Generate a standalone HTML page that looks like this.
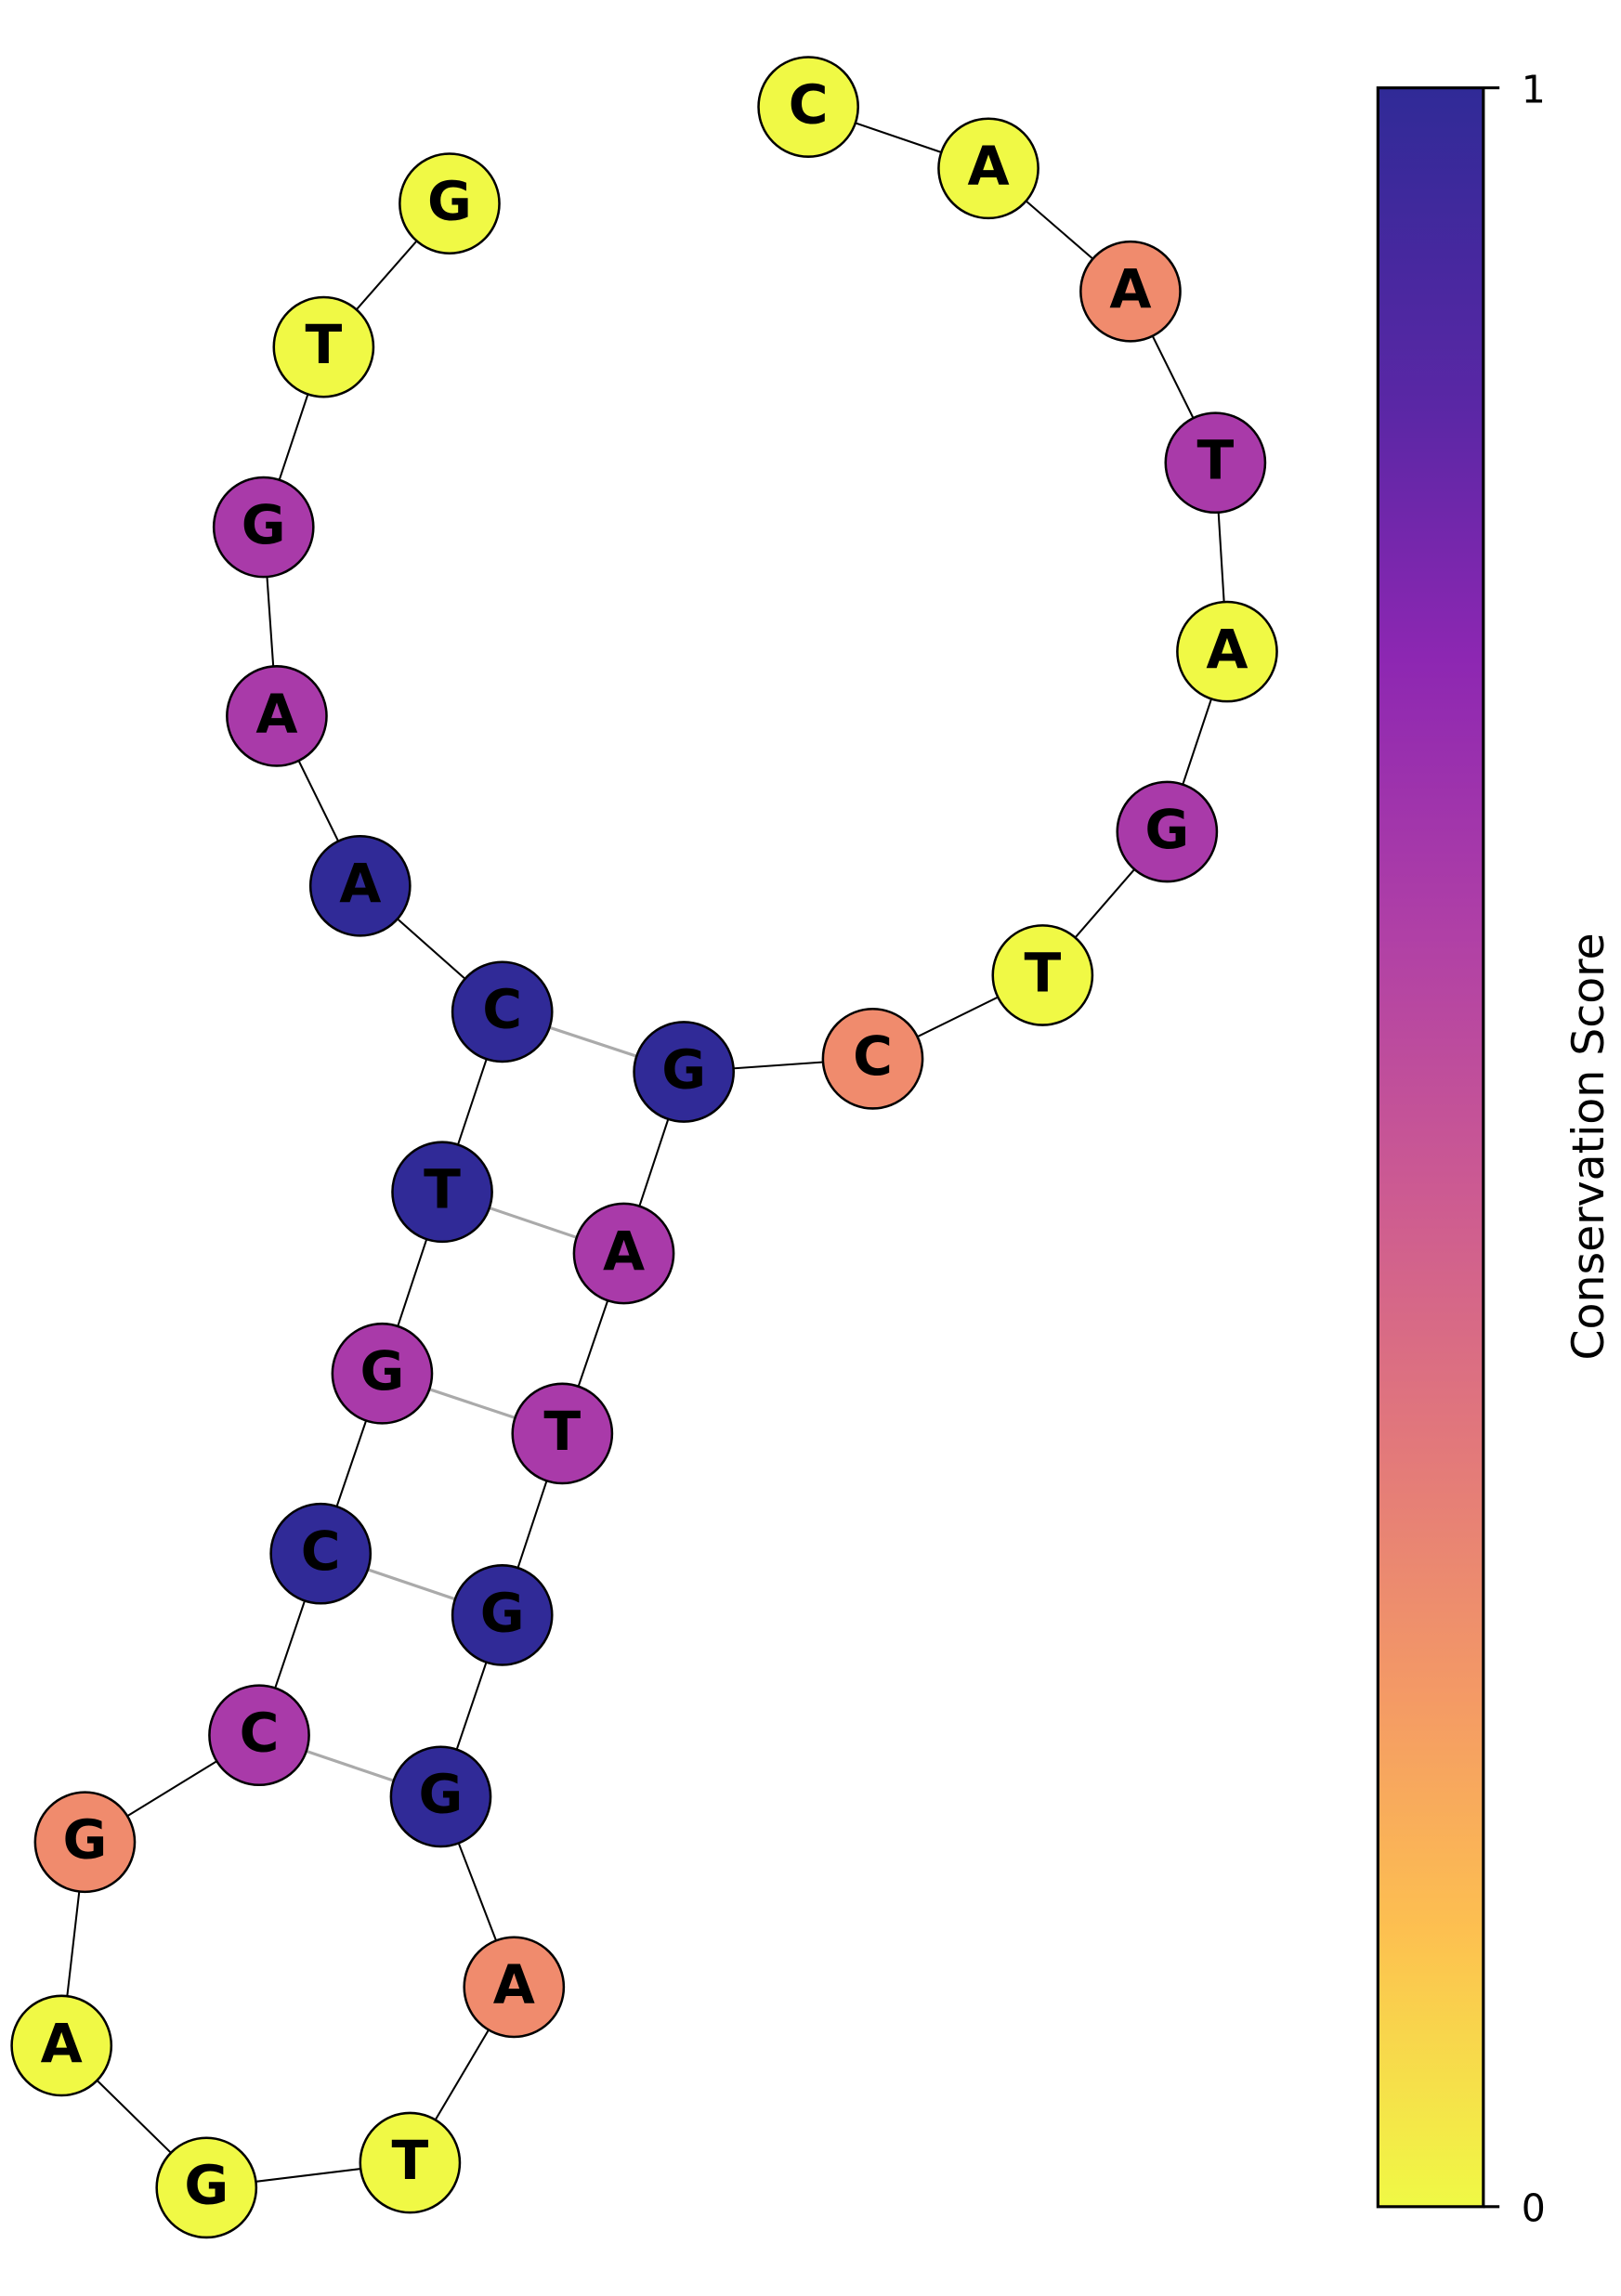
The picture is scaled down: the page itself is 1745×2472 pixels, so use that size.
<!DOCTYPE html>
<html><head><meta charset="utf-8"><style>html,body{margin:0;padding:0;background:#fff}svg{display:block}</style></head>
<body>
<svg width="1745" height="2472" viewBox="0 0 1107 1568" preserveAspectRatio="none" xmlns="http://www.w3.org/2000/svg">
<defs>
<linearGradient id="cb" x1="0" y1="0" x2="0" y2="1">
<stop offset="0" stop-color="#302a97"/>
<stop offset="0.15" stop-color="#5a27a5"/>
<stop offset="0.27" stop-color="#8d27b2"/>
<stop offset="0.4" stop-color="#b040a6"/>
<stop offset="0.52" stop-color="#cc5a92"/>
<stop offset="0.64" stop-color="#e2787b"/>
<stop offset="0.76" stop-color="#f49a65"/>
<stop offset="0.87" stop-color="#fdc050"/>
<stop offset="1" stop-color="#f0f945"/>
</linearGradient>
</defs>
<g stroke="#aaa" stroke-width="2">
<line x1="343" y1="691" x2="467" y2="732"/>
<line x1="302" y1="814" x2="426" y2="856"/>
<line x1="261" y1="938" x2="384" y2="979"/>
<line x1="219" y1="1061" x2="343" y2="1103"/>
<line x1="177" y1="1185" x2="301" y2="1227"/>
</g>
<polyline fill="none" stroke="#000" stroke-width="1.3" points="552,73 675,115 772,199 830,316 838,445 797,568 712,666 596,723 467,732 426,856 384,979 343,1103 301,1227 351,1357 280,1477 141,1494 42,1397 58,1258 177,1185 219,1061 261,938 302,814 343,691 246,605 189,489 180,360 221,237 307,139"/>
<g stroke="#000" stroke-width="1.6" font-family="'DejaVu Sans','Liberation Sans',sans-serif" font-weight="bold" font-size="37" text-anchor="middle">
<circle cx="552" cy="73" r="34" fill="#f0f945"/>
<circle cx="675" cy="115" r="34" fill="#f0f945"/>
<circle cx="772" cy="199" r="34" fill="#f08b6d"/>
<circle cx="830" cy="316" r="34" fill="#a93aa9"/>
<circle cx="838" cy="445" r="34" fill="#f0f945"/>
<circle cx="797" cy="568" r="34" fill="#a93aa9"/>
<circle cx="712" cy="666" r="34" fill="#f0f945"/>
<circle cx="596" cy="723" r="34" fill="#f08b6d"/>
<circle cx="467" cy="732" r="34" fill="#302a97"/>
<circle cx="343" cy="691" r="34" fill="#302a97"/>
<circle cx="246" cy="605" r="34" fill="#302a97"/>
<circle cx="189" cy="489" r="34" fill="#a93aa9"/>
<circle cx="180" cy="360" r="34" fill="#a93aa9"/>
<circle cx="221" cy="237" r="34" fill="#f0f945"/>
<circle cx="307" cy="139" r="34" fill="#f0f945"/>
<circle cx="302" cy="814" r="34" fill="#302a97"/>
<circle cx="426" cy="856" r="34" fill="#a93aa9"/>
<circle cx="261" cy="938" r="34" fill="#a93aa9"/>
<circle cx="384" cy="979" r="34" fill="#a93aa9"/>
<circle cx="219" cy="1061" r="34" fill="#302a97"/>
<circle cx="343" cy="1103" r="34" fill="#302a97"/>
<circle cx="177" cy="1185" r="34" fill="#a93aa9"/>
<circle cx="301" cy="1227" r="34" fill="#302a97"/>
<circle cx="58" cy="1258" r="34" fill="#f08b6d"/>
<circle cx="42" cy="1397" r="34" fill="#f0f945"/>
<circle cx="141" cy="1494" r="34" fill="#f0f945"/>
<circle cx="280" cy="1477" r="34" fill="#f0f945"/>
<circle cx="351" cy="1357" r="34" fill="#f08b6d"/>
<g stroke="none" fill="#000" transform="translate(0,-2)">
<text x="552" y="86">C</text><text x="675" y="128">A</text><text x="772" y="212">A</text><text x="830" y="329">T</text><text x="838" y="458">A</text><text x="797" y="581">G</text><text x="712" y="679">T</text><text x="596" y="736">C</text><text x="467" y="745">G</text><text x="343" y="704">C</text><text x="246" y="618">A</text><text x="189" y="502">A</text><text x="180" y="373">G</text><text x="221" y="250">T</text><text x="307" y="152">G</text>
<text x="302" y="827">T</text><text x="426" y="869">A</text><text x="261" y="951">G</text><text x="384" y="992">T</text><text x="219" y="1074">C</text><text x="343" y="1116">G</text><text x="177" y="1198">C</text><text x="301" y="1240">G</text><text x="58" y="1271">G</text><text x="42" y="1410">A</text><text x="141" y="1507">G</text><text x="280" y="1490">T</text><text x="351" y="1370">A</text>
</g>
</g>
<rect x="941" y="60" width="72" height="1447" fill="url(#cb)" stroke="#000" stroke-width="2"/>
<line x1="1013" y1="60" x2="1024" y2="60" stroke="#000" stroke-width="2"/>
<line x1="1013" y1="1507" x2="1024" y2="1507" stroke="#000" stroke-width="2"/>
<g font-family="'DejaVu Sans','Liberation Sans',sans-serif" font-size="26" fill="#000">
<text x="1039" y="70">1</text>
<text x="1039" y="1517">0</text>
<text transform="translate(1095,783) rotate(-90)" text-anchor="middle" font-size="30">Conservation Score</text>
</g>
</svg>
</body></html>
